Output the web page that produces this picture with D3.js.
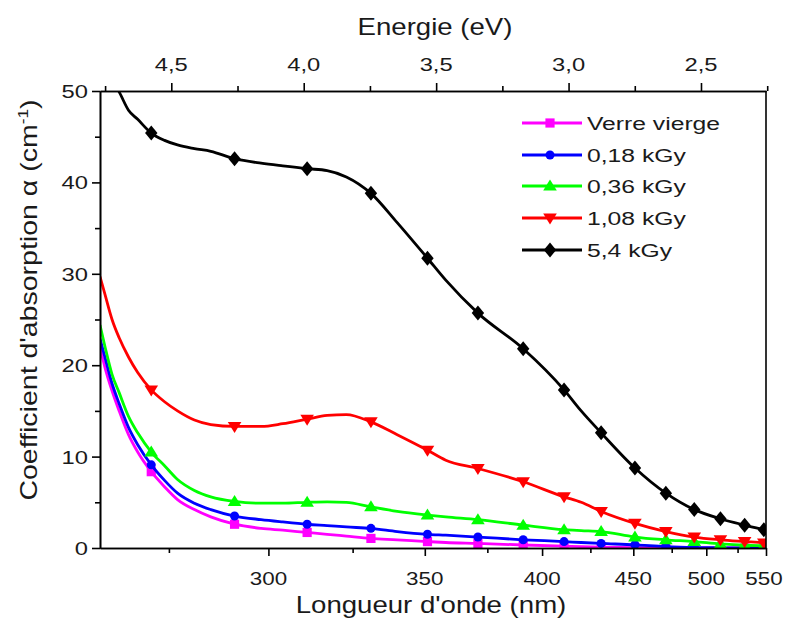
<!DOCTYPE html>
<html><head><meta charset="utf-8">
<script src="https://cdn.jsdelivr.net/npm/d3@7"></script>
<style>body{margin:0;background:#fff}svg{display:block}text{font-family:"Liberation Sans",Arial,sans-serif;fill:#1a1a1a}</style>
</head><body><svg id="c" width="785" height="619"></svg>
<script>
// ---- data ----
const wavelengths = [260, 261, 262.5, 264, 266, 268, 271, 274, 277, 281, 285, 291, 298, 304, 311, 317, 323, 331, 340, 351, 358, 371, 391, 411, 420, 431, 451, 471, 491, 511, 531, 548, 550];
const verreVierge = [22.0, 19.8, 17.2, 15.0, 12.4, 10.5, 8.35, 6.7, 5.3, 4.2, 3.4, 2.6, 2.15, 1.95, 1.7, 1.5, 1.3, 1.05, 0.9, 0.7, 0.6, 0.5, 0.33, 0.2, 0.15, 0.1, 0.05, 0, 0, 0, 0, 0, 0];
const dose018 = [22.9, 20.9, 18.0, 15.8, 13.2, 11.3, 9.1, 7.4, 6.0, 4.9, 4.2, 3.5, 3.1, 2.85, 2.6, 2.45, 2.3, 2.15, 1.8, 1.5, 1.4, 1.2, 0.9, 0.7, 0.6, 0.5, 0.35, 0.15, 0.05, 0.02, 0, 0, 0];
const dose036 = [24.4, 22.1, 19.0, 17.0, 14.4, 12.6, 10.5, 9.0, 7.5, 6.3, 5.6, 5.1, 4.9, 4.9, 5.0, 5.05, 5.0, 4.5, 4.0, 3.6, 3.4, 3.1, 2.5, 2.0, 1.9, 1.8, 1.2, 0.9, 0.7, 0.45, 0.3, 0.25, 0.25];
const dose108 = [29.7, 27.8, 25.0, 23.0, 20.9, 19.2, 17.3, 16.0, 15.0, 14.0, 13.5, 13.3, 13.3, 13.6, 14.1, 14.5, 14.6, 13.8, 12.4, 10.7, 9.6, 8.7, 7.25, 5.6, 5.0, 4.0, 2.7, 1.8, 1.2, 0.9, 0.7, 0.55, 0.5];
const dose54 = [53.5, 52.5, 51.2, 49.9, 47.9, 46.9, 45.4, 44.6, 44.1, 43.7, 43.4, 42.6, 42.1, 41.8, 41.5, 41.3, 40.6, 38.8, 35.6, 31.7, 29.3, 25.7, 21.8, 17.3, 15.0, 12.6, 8.75, 6.0, 4.2, 3.2, 2.5, 2.0, 1.95];
const markerWavelengths = [271, 291, 311, 331, 351, 371, 391, 411, 431, 451, 471, 491, 511, 531, 548];
const seriesNames = ["Verre vierge", "0,18 kGy", "0,36 kGy", "1,08 kGy", "5,4 kGy"];
const seriesColors = ["#ff00ff", "#0000ff", "#00ff00", "#ff0000", "#000000"];
const seriesSymbols = ["square", "circle", "triangleUp", "triangleDown", "diamond"];
const energyTicks = [4.5, 4.0, 3.5, 3.0, 2.5];
const energyMinor = [4.75, 4.25, 3.75, 3.25, 2.75, 2.25];
const wlTicks = [300, 350, 400, 450, 500, 550];
const wlMinor = [275, 325, 375, 425, 475, 525];
const yTicks = [0, 10, 20, 30, 40, 50];
const yMinor = [5, 15, 25, 35, 45];
const HC = 1240;

const seriesValues = [verreVierge, dose018, dose036, dose108, dose54];

// ---- layout ----
const L = 100, R = 766, T = 91, B = 548;
const svg = d3.select("#c");
const x = d3.scaleLinear().domain([HC / 260, HC / 550]).range([L, R]);
const y = d3.scaleLinear().domain([0, 50]).range([B, T]);
const xw = w => x(HC / w);

function label(g, px, py, str, size, k, anchor, rot) {
  const t = g.append("text")
    .attr("transform", `translate(${px},${py})` + (rot ? ` rotate(${rot})` : "") + ` scale(${k},1)`)
    .attr("text-anchor", anchor).attr("font-size", size);
  if (str !== null) t.text(str);
  return t;
}

svg.append("defs").append("clipPath").attr("id", "clip")
  .append("rect").attr("x", L).attr("y", T).attr("width", R - L).attr("height", B - T);

function symPath(type) {
  switch (type) {
    case "square": return "M-4.6,-4.6H4.6V4.6H-4.6Z";
    case "circle": return d3.symbol(d3.symbolCircle, 64)();
    case "triangleUp": return "M0,-6.5L6.8,4.5H-6.8Z";
    case "triangleDown": return "M0,6.5L6.8,-4.5H-6.8Z";
    case "diamond": return "M0,-7.5L6.2,0L0,7.5L-6.2,0Z";
  }
}

const plot = svg.append("g").attr("clip-path", "url(#clip)");
const line = d3.line().x(d => xw(d[0])).y(d => y(d[1])).curve(d3.curveMonotoneX);

seriesValues.forEach((vals, i) => {
  const pts = wavelengths.map((w, j) => [w, vals[j]]);
  plot.append("path").datum(pts).attr("d", line)
    .attr("fill", "none").attr("stroke", seriesColors[i]).attr("stroke-width", 2.8)
    .attr("stroke-linejoin", "round");
  const mk = pts.filter(p => markerWavelengths.includes(p[0]));
  plot.selectAll(null).data(mk).enter().append("path")
    .attr("d", symPath(seriesSymbols[i]))
    .attr("transform", d => `translate(${xw(d[0])},${y(d[1])})`)
    .attr("fill", seriesColors[i]);
});

const axisStyle = g => { g.selectAll("path,line").attr("stroke", "#000").attr("stroke-width", 1.6); g.selectAll("text").remove(); };

svg.append("g").attr("transform", `translate(0,${B})`)
  .call(d3.axisBottom(x).tickValues(wlTicks.map(w => HC / w)).tickSize(8).tickSizeOuter(0)).call(axisStyle);
svg.append("g").attr("transform", `translate(0,${B})`)
  .call(d3.axisBottom(x).tickValues(wlMinor.map(w => HC / w)).tickSize(5).tickSizeOuter(0)).call(axisStyle);
svg.append("g").attr("transform", `translate(0,${T})`)
  .call(d3.axisTop(x).tickValues(energyTicks).tickSize(8).tickSizeOuter(0)).call(axisStyle);
svg.append("g").attr("transform", `translate(0,${T})`)
  .call(d3.axisTop(x).tickValues(energyMinor).tickSize(5).tickSizeOuter(0)).call(axisStyle);
svg.append("g").attr("transform", `translate(${L},0)`)
  .call(d3.axisLeft(y).tickValues(yTicks).tickSize(8).tickSizeOuter(0)).call(axisStyle);
svg.append("g").attr("transform", `translate(${L},0)`)
  .call(d3.axisLeft(y).tickValues(yMinor).tickSize(5).tickSizeOuter(0)).call(axisStyle);
svg.append("line").attr("x1", R).attr("x2", R).attr("y1", T).attr("y2", B)
  .attr("stroke", "#000").attr("stroke-width", 1.6);

const tl = svg.append("g");
wlTicks.forEach(w => label(tl, Math.min(xw(w), 764), 585, String(w), 19, 1.18, "middle"));
energyTicks.forEach(e => label(tl, x(e), 71, e.toFixed(1).replace(".", ","), 19, 1.25, "middle"));
yTicks.forEach(v => label(tl, 88, y(v) + 7, String(v), 19, 1.25, "end"));

label(svg, 435, 35, "Energie (eV)", 23, 1.2, "middle");
label(svg, 431, 613, "Longueur d'onde (nm)", 23, 1.2, "middle");
const yl = label(svg, 37, 300, null, 23, 1.24, "middle", -90);
yl.append("tspan").text("Coefficient d'absorption α (cm");
yl.append("tspan").attr("font-size", 14).attr("dy", -9).text("-1");
yl.append("tspan").attr("dy", 9).text(")");

const leg = svg.append("g");
const legY = [123, 155, 186, 218, 250];
seriesNames.forEach((n, i) => {
  leg.append("line").attr("x1", 522).attr("x2", 582).attr("y1", legY[i]).attr("y2", legY[i])
    .attr("stroke", seriesColors[i]).attr("stroke-width", 2.8);
  leg.append("path").attr("d", symPath(seriesSymbols[i]))
    .attr("transform", `translate(550,${legY[i]})`).attr("fill", seriesColors[i]);
  label(leg, 587, legY[i] + 7, n, 19, 1.3, "start");
});
</script></body></html>
